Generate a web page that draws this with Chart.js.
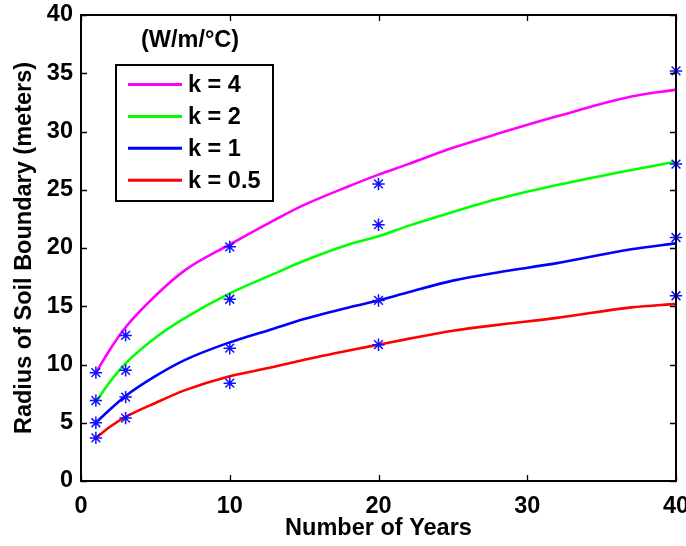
<!DOCTYPE html>
<html>
<head>
<meta charset="utf-8">
<script src="https://cdn.jsdelivr.net/npm/chart.js@4/dist/chart.umd.min.js"></script>
<style>
  html, body { margin: 0; padding: 0; background: #fff; }
  #wrap { width: 686px; height: 546px; }
</style>
</head>
<body>
<div id="wrap"><canvas id="myChart" width="686" height="546"></canvas></div>
<script>
// values
const lineYears = [1, 2, 3, 5, 7, 10, 13, 15, 18, 20, 22, 25, 28, 32, 37, 40];
const lineK4  = [9.3, 11.4, 13.2, 15.9, 18.1, 20.3, 22.4, 23.7, 25.3, 26.3, 27.2, 28.6, 29.8, 31.3, 33.0, 33.6];
const lineK2  = [6.8, 8.6, 10.1, 12.3, 14.0, 16.1, 17.8, 18.9, 20.3, 21.0, 21.9, 23.1, 24.2, 25.4, 26.7, 27.4];
const lineK1  = [5.0, 6.2, 7.3, 9.0, 10.4, 11.9, 13.1, 13.9, 14.9, 15.5, 16.2, 17.2, 17.9, 18.7, 19.9, 20.4];
const lineK05 = [3.7, 4.7, 5.5, 6.7, 7.8, 9.0, 9.8, 10.4, 11.2, 11.7, 12.2, 12.9, 13.4, 14.0, 14.9, 15.2];

const starYears = [1, 3, 10, 20, 40];
const starK4  = [9.3, 12.5, 20.1, 25.5, 35.2];
const starK2  = [6.9, 9.5, 15.6, 22.0, 27.2];
const starK1  = [5.0, 7.2, 11.4, 15.5, 20.9];
const starK05 = [3.7, 5.4, 8.4, 11.7, 15.9];

const labels = ["k = 4", "k = 2", "k = 1", "k = 0.5"];
const colors = ["#ff00ff", "#00ff00", "#0000ff", "#ff0000"];

const FONT = "'Liberation Sans', Arial, sans-serif";
const FS = 23.5;

function pts(xs, ys) {
  return xs.map((x, i) => ({ x: x, y: ys[i] }));
}

const lineSets = [lineK4, lineK2, lineK1, lineK05].map((ys, i) => ({
  label: labels[i],
  data: pts(lineYears, ys),
  borderColor: colors[i],
  borderWidth: 2.6,
  pointRadius: 0,
  fill: false,
  cubicInterpolationMode: "monotone",
  order: 2,
}));

const starSets = [starK4, starK2, starK1, starK05].map((ys) => ({
  label: "",
  data: pts(starYears, ys),
  showLine: false,
  pointStyle: "star",
  pointRadius: 6.2,
  pointBorderColor: "#1010ff",
  pointBackgroundColor: "#1010ff",
  pointBorderWidth: 1.5,
  clip: false,
  order: 1,
  isStar: true,
}));

// box, inward ticks, legend and unit note
const boxPlugin = {
  id: "boxPlugin",
  afterDraw(chart) {
    const ctx = chart.ctx;
    const a = chart.chartArea;
    const xs = chart.scales.x, ys = chart.scales.y;
    ctx.save();
    ctx.strokeStyle = "#000";
    ctx.lineWidth = 2;
    ctx.strokeRect(a.left, a.top, a.right - a.left, a.bottom - a.top);
    ctx.lineWidth = 1.3;
    ctx.beginPath();
    xs.ticks.forEach((t) => {
      const px = Math.round(xs.getPixelForValue(t.value)) + 0.5;
      ctx.moveTo(px, a.bottom); ctx.lineTo(px, a.bottom - 6);
      ctx.moveTo(px, a.top); ctx.lineTo(px, a.top + 6);
    });
    ys.ticks.forEach((t) => {
      const py = Math.round(ys.getPixelForValue(t.value)) + 0.5;
      ctx.moveTo(a.left, py); ctx.lineTo(a.left + 6, py);
      ctx.moveTo(a.right, py); ctx.lineTo(a.right - 6, py);
    });
    ctx.stroke();

    // unit note
    ctx.fillStyle = "#000";
    ctx.font = "bold " + FS + "px " + FONT;
    ctx.textAlign = "left";
    ctx.textBaseline = "middle";
    ctx.fillText("(W/m/°C)", 141, 41);

    // legend
    const lx = 116, ly = 65, lw = 157, lh = 136;
    ctx.fillStyle = "#fff";
    ctx.fillRect(lx, ly, lw, lh);
    ctx.lineWidth = 2;
    ctx.strokeRect(lx, ly, lw, lh);
    chart.data.datasets.filter((d) => !d.isStar).forEach((d, i) => {
      const yy = ly + 19.5 + i * 31.9;
      ctx.strokeStyle = d.borderColor;
      ctx.lineWidth = 3;
      ctx.beginPath();
      ctx.moveTo(128, yy); ctx.lineTo(182, yy);
      ctx.stroke();
      ctx.fillStyle = "#000";
      ctx.fillText(d.label, 188, yy + 1);
    });
    ctx.restore();
  },
};

const config = {
  type: "line",
  data: { datasets: starSets.concat(lineSets) },
  options: {
    responsive: false,
    animation: false,
    layout: { padding: { top: 15, right: 10, left: 0, bottom: 0 } },
    plugins: { legend: { display: false }, tooltip: { enabled: false } },
    scales: {
      x: {
        type: "linear",
        min: 0, max: 40,
        grid: { display: false, drawTicks: false },
        border: { display: false },
        ticks: { stepSize: 10, color: "#000", padding: 11, font: { family: FONT, size: FS, weight: "bold" } },
        title: { display: true, text: "Number of Years", color: "#000", padding: { top: 0, bottom: 3 },
                 font: { family: FONT, size: FS, weight: "bold" } },
        afterFit(s) { s.height = 65; s.paddingLeft = 0; s.paddingRight = 0; },
      },
      y: {
        type: "linear",
        min: 0, max: 40,
        grid: { display: false, drawTicks: false },
        border: { display: false },
        ticks: { stepSize: 5, color: "#000", padding: 8, font: { family: FONT, size: FS, weight: "bold" } },
        title: { display: true, text: "Radius of Soil Boundary (meters)", color: "#000", padding: { top: 10, bottom: 0 },
                 font: { family: FONT, size: FS, weight: "bold" } },
        afterFit(s) { s.width = 81; s.paddingTop = 0; s.paddingBottom = 0; },
      },
    },
  },
  plugins: [boxPlugin],
};

const ctx = document.getElementById("myChart").getContext("2d");
const myChart = new Chart(ctx, config);
</script>
</body>
</html>
